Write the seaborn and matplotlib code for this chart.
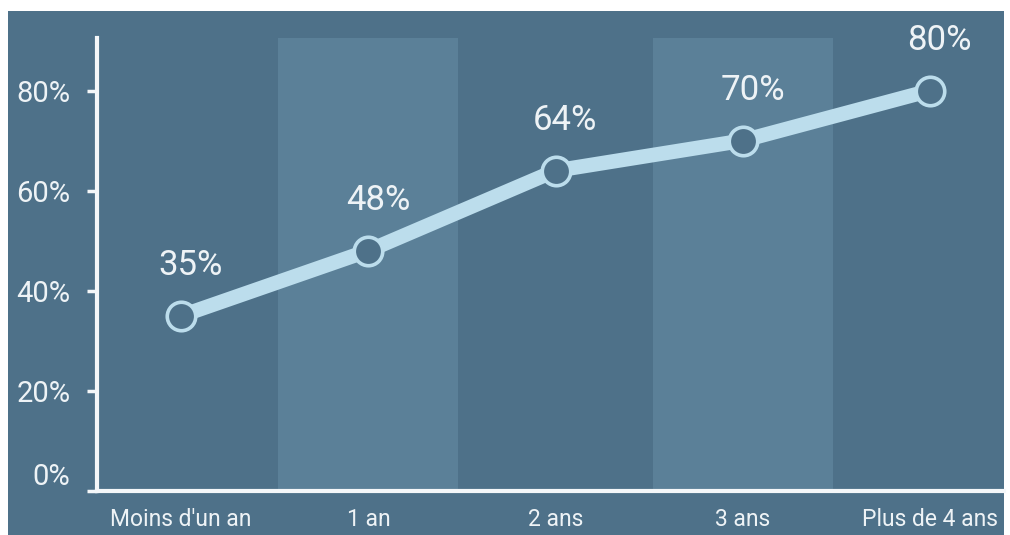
import matplotlib
matplotlib.use("Agg")
import matplotlib.pyplot as plt
from matplotlib.patches import Rectangle
import seaborn as sns
import pandas as pd

# Share of respondents by seniority
categories = ["Moins d'un an", "1 an", "2 ans", "3 ans", "Plus de 4 ans"]
values = [35, 48, 64, 70, 80]
y_ticks = [0, 20, 40, 60, 80]
y_tick_labels = ["0%", "20%", "40%", "60%", "80%"]
shaded_columns = [1, 3]

BG = "#4e7189"
BAND = "#5b8098"
LINE = "#bcddec"
TEXT = "#eef3f6"
AXIS = "#f4f7f9"

sns.set_theme(style="white")
plt.rcParams["font.family"] = ["Roboto", "DejaVu Sans"]

fig = plt.figure(figsize=(10.1, 5.35), dpi=100)
fig.patch.set_facecolor("white")
fig.add_artist(Rectangle((8 / 1010, 0), (1004 - 8) / 1010, (535 - 11) / 535,
                         transform=fig.transFigure, facecolor=BG,
                         edgecolor="none", zorder=-5))

ax = fig.add_axes([97 / 1010, 44 / 535, (1004 - 97) / 1010, (491 - 38) / 535])
ax.set_facecolor(BG)

df = pd.DataFrame({"categorie": categories, "part": values})

for c in shaded_columns:
    ax.axvspan(c - 0.48, c + 0.48, color=BAND, lw=0, zorder=0)

sns.lineplot(data=df, x="categorie", y="part", ax=ax, sort=False,
             color=LINE, linewidth=10.5, marker="o", markersize=20.5,
             markerfacecolor=BG, markeredgecolor=LINE, markeredgewidth=2.6,
             zorder=3)

for i, v in enumerate(values):
    ax.annotate(f"{v}%", (i, v), xytext=(7, 36), textcoords="offset points",
                ha="center", va="center", color=TEXT, fontsize=25,
                zorder=4)

ax.set_xlim(-0.449, 4.395)
ax.set_ylim(0, 90.5)
ax.set_yticks(y_ticks)
ax.set_yticklabels(y_tick_labels)
ax.set_xticks(range(len(categories)))
ax.set_xticklabels(categories)
ax.set_xlabel("")
ax.set_ylabel("")

for side in ["top", "right"]:
    ax.spines[side].set_visible(False)
for side in ["left", "bottom"]:
    ax.spines[side].set_color(AXIS)
    ax.spines[side].set_linewidth(3)
    ax.spines[side].set_zorder(5)

ax.tick_params(axis="y", left=True, length=7, width=2.5, color=AXIS,
               pad=12, labelsize=21, labelcolor=TEXT)
ax.tick_params(axis="x", bottom=False, length=0, pad=12,
               labelsize=16.5, labelcolor=TEXT)
ax.get_yticklabels()[0].set_va("bottom")

fig.savefig("out.png", dpi=100, facecolor=fig.get_facecolor())
